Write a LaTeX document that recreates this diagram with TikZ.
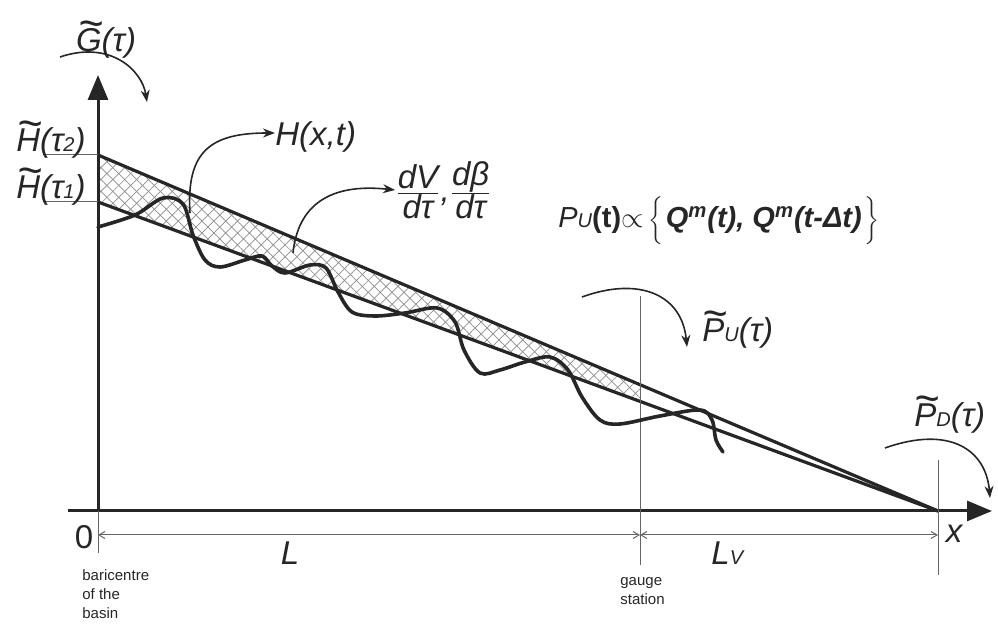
\documentclass[tikz,border=0pt]{standalone}
\usepackage{graphicx}
\usepackage{fontspec}
\setmainfont{Liberation Sans}
\usetikzlibrary{arrows.meta,patterns.meta}

\newcommand{\wtl}[1]{\ooalign{#1\cr\hidewidth\kern0.12em\raisebox{0.4em}{\scalebox{1.3}[1.35]{\char"007E}}\hidewidth\cr}}
\newcommand{\lo}[1]{{\fontsize{10}{10}\selectfont #1}}

\begin{document}
\begin{tikzpicture}[x=0.5pt,y=-0.5pt,
    axis/.style={line width=1.5pt, draw=black!85, -{Triangle[length=12.5pt,width=10pt]}},
    slope/.style={line width=1.6pt, draw=black!85, line cap=round},
    thinline/.style={line width=0.5pt, draw=black!60},
    dim/.style={thinline, {Straight Barb[length=3pt,width=3.5pt]}-{Straight Barb[length=3pt,width=3.5pt]}},
    flow/.style={line width=0.8pt, draw=black!85, -{Stealth[length=6pt,width=4.5pt]}},
    hatch/.style={pattern={Lines[angle=45,distance=4.2pt,line width=0.35pt]}, pattern color=black!45},
    lbl/.style={font=\fontsize{16.5}{18}\selectfont\itshape, text=black!85, inner sep=0pt},
    note/.style={font=\fontsize{7.5}{9.5}\selectfont, text=black!85, align=left, inner sep=0pt}]

    \useasboundingbox (0,0) rectangle (998,625);

    % Key points
    \coordinate (O) at (98,511);
    \coordinate (h2) at (98,155);
    \coordinate (h1) at (98,202);
    \coordinate (xe) at (938,511);
    \coordinate (g2) at (640,384.7);
    \coordinate (g1) at (640,401.4);

    % Stored volume between the two profiles
    \fill[hatch] (h2) -- (g2) -- (g1) -- (h1) -- cycle;
    \fill[hatch, pattern={Lines[angle=-45,distance=4.2pt,line width=0.35pt]}] (h2) -- (g2) -- (g1) -- (h1) -- cycle;

    % Axes
    \draw[axis] (O) -- (98,75);
    \draw[axis] (68,511) -- (992,511);
    \draw[thinline] (O) -- (98,553);

    % Profiles at tau_2 and tau_1
    \draw[slope] (h2) -- (xe);
    \draw[slope] (h1) -- (xe);
    \draw[thinline] (43,155) -- (h2);
    \draw[thinline] (43,202) -- (h1);

    % Gauge station and outlet
    \draw[thinline] (640,296) -- (640,565);
    \draw[thinline] (938,460) -- (938,575);

    % Lengths
    \draw[dim] (98,535) -- (640,535);
    \draw[dim] (640,535) -- (938,535);

    % Water surface H(x,t)
    \draw[line width=1.8pt, draw=black!85, line join=round, line cap=round]
        plot[smooth, tension=0.55] coordinates {
        (98,227) (135,215) (163,198) (183,204) (193,235) (205,260) (220,267)
        (245,260) (262,256) (272,266) (285,273) (310,265) (326,268) (338,292)
        (352,312) (375,316) (405,313) (437,308) (455,322) (464,350) (480,373)
        (500,370) (525,362) (550,357) (568,370) (582,397) (600,420) (620,424)
        (660,416) (700,410) (712,420) (716,440) (723,452)};

    % Labels
    \node[lbl, anchor=base] (gtau) at (106,52) {\wtl{G}(τ)};
    \node[lbl, anchor=base east] (htwo) at (86,152) {\wtl{H}(τ\lo{2})};
    \node[lbl, anchor=base east] (hone) at (86,199) {\wtl{H}(τ\lo{1})};
    \node[lbl, anchor=base west] (hxt) at (275,146) {H(x,t)};
    \node[lbl, anchor=west] (dvdt) at (395,190)
        {$\frac{\mbox{dV}}{\mbox{dτ}}$,$\frac{\mbox{dβ}}{\mbox{dτ}}$};
    \node[lbl, font=\fontsize{14.5}{18}\selectfont\itshape, anchor=base west] (pu) at (558,228)
        {P\lo{U}\textbf{\upshape(t)}${\propto}\left\{\rule[-8pt]{0pt}{24pt}\right.$\textbf{Q\textsuperscript{m}(t), Q\textsuperscript{m}(t-Δt)}$\left.\rule[-8pt]{0pt}{24pt}\right\}$};
    \node[lbl, anchor=base west] (putau) at (702,342) {\wtl{P}\lo{U}(τ)};
    \node[lbl, anchor=base west] (pdtau) at (914,427) {\wtl{P}\lo{D}(τ)};
    \node[lbl, font=\fontsize{16.5}{18}\selectfont\upshape] (zero) at (84,537) {0};
    \node[lbl] (xlab) at (954,534) {x};
    \node[lbl, anchor=base] (llab) at (290,565) {L};
    \node[lbl, anchor=base west] (lvlab) at (711,565) {L\lo{V}};
    \node[note, anchor=north west] (bari) at (82,569) {baricentre\\of the\\basin};
    \node[note, anchor=north west] (gauge) at (620,577) {gauge\\station};

    % Fluxes
    \coordinate (gin) at (60,57);
    \coordinate (gout) at (147,102);
    \draw[flow] (gin) .. controls (110,40) and (142,70) .. (gout);
    \coordinate (wav) at (190,213);
    \draw[flow] (wav) .. controls (186,150) and (212,133) .. (hxt.west |- 0,133);
    \coordinate (hat) at (293,253);
    \draw[flow] (hat) .. controls (298,205) and (330,183) .. (dvdt.west);
    \coordinate (puin) at (582,297);
    \coordinate (puout) at (687,347);
    \draw[flow] (puin) .. controls (640,276) and (682,295) .. (puout);
    \coordinate (pdin) at (885,448);
    \coordinate (pdout) at (990,498);
    \draw[flow] (pdin) .. controls (950,425) and (986,450) .. (pdout);

\end{tikzpicture}
\end{document}
